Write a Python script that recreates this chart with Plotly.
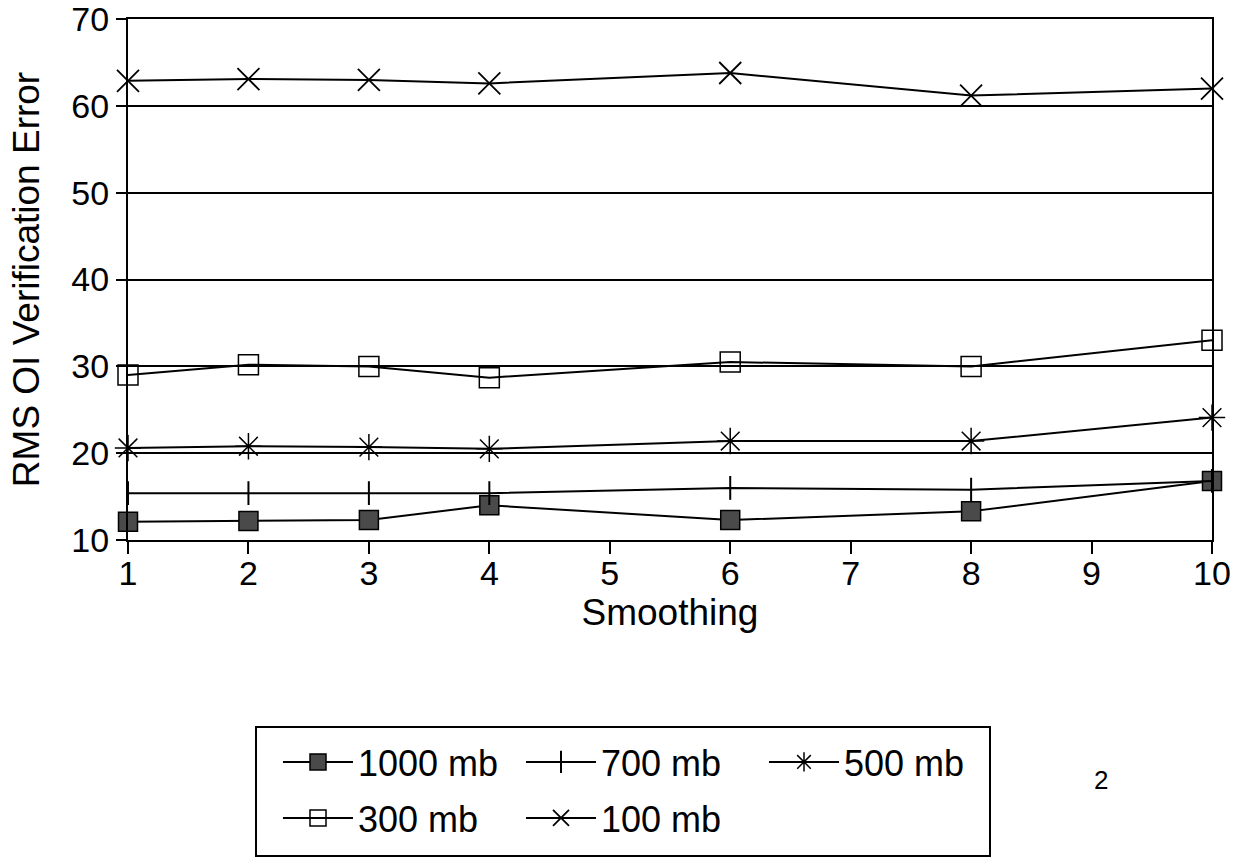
import plotly.graph_objects as go

smoothing = [1, 2, 3, 4, 6, 8, 10]
mb1000 = [12.1, 12.2, 12.3, 14.0, 12.3, 13.3, 16.8]
mb700 = [15.4, 15.4, 15.4, 15.4, 16.0, 15.8, 16.8]
mb500 = [20.6, 20.8, 20.7, 20.5, 21.4, 21.4, 24.1]
mb300 = [29.0, 30.2, 30.0, 28.7, 30.5, 30.0, 33.0]
mb100 = [62.9, 63.1, 63.0, 62.6, 63.8, 61.2, 62.0]

y_ticks = [10, 20, 30, 40, 50, 60, 70]
x_ticks = [1, 2, 3, 4, 5, 6, 7, 8, 9, 10]

FONT = "Liberation Sans, Arial, sans-serif"

series = [
    ("1000 mb", mb1000, dict(symbol="square", size=19, color="#4a4a4a",
                             line=dict(color="black", width=1.5)), "legend"),
    ("700 mb", mb700, dict(symbol="line-ns", size=17, color="black",
                           line=dict(color="black", width=2)), "legend"),
    ("500 mb", mb500, dict(symbol="asterisk-open", size=22, color="black",
                           line=dict(color="black", width=1.5)), "legend"),
    ("300 mb", mb300, dict(symbol="square-open", size=20, color="black",
                           line=dict(color="black", width=1.5)), "legend2"),
    ("100 mb", mb100, dict(symbol="x-thin-open", size=22, color="black",
                           line=dict(color="black", width=1.8)), "legend2"),
]

fig = go.Figure()
for name, vals, marker, leg in series:
    fig.add_trace(go.Scatter(
        x=smoothing, y=vals, name=name, mode="lines+markers",
        line=dict(color="black", width=2), marker=marker,
        cliponaxis=False, legend=leg,
    ))

L, R, T, B = 128, 1212, 19, 540
W, H = 1244, 859
pw, ph = R - L, B - T


def px(x):
    return (x - L) / pw


def py(y):
    return (B - y) / ph


legend_common = dict(
    orientation="h", xanchor="left", yanchor="middle",
    font=dict(family=FONT, size=36, color="black"),
    bgcolor="rgba(0,0,0,0)", borderwidth=0,
    itemwidth=70, entrywidth=158, entrywidthmode="pixels",
    traceorder="normal",
)

fig.update_layout(
    width=W, height=H,
    margin=dict(l=L, r=W - R, t=T, b=H - B, autoexpand=False),
    paper_bgcolor="white", plot_bgcolor="white",
    font=dict(family=FONT, color="black"),
    showlegend=True,
    legend=dict(x=px(278), y=py(762), **legend_common),
    legend2=dict(x=px(278), y=py(818), **legend_common),
    xaxis=dict(
        range=[1, 10], tickvals=x_ticks, ticktext=[str(v) for v in x_ticks],
        showline=True, linecolor="black", linewidth=2, mirror=True,
        ticks="outside", ticklen=12, tickwidth=2, tickcolor="black",
        ticklabelstandoff=-10, automargin=False,
        showgrid=False, zeroline=False,
        tickfont=dict(family=FONT, size=34, color="black"),
        title=dict(text="Smoothing", standoff=2,
                   font=dict(family=FONT, size=37, color="black")),
    ),
    yaxis=dict(
        range=[10, 70.02], tickvals=y_ticks, ticktext=[str(v) for v in y_ticks],
        showline=True, linecolor="black", linewidth=2, mirror=True,
        ticks="outside", ticklen=10, tickwidth=2, tickcolor="black",
        automargin=False,
        showgrid=True, gridcolor="black", gridwidth=2, zeroline=False,
        tickfont=dict(family=FONT, size=34, color="black"),
        title=dict(text="RMS OI Verification Error", standoff=20,
                   font=dict(family=FONT, size=37, color="black")),
    ),
    shapes=[dict(type="rect", xref="paper", yref="paper",
                 x0=px(256), x1=px(990), y0=py(727), y1=py(856),
                 line=dict(color="black", width=2), fillcolor="rgba(0,0,0,0)")],
    annotations=[dict(text="2", xref="paper", yref="paper",
                      x=px(1101), y=py(780), xanchor="center", yanchor="middle",
                      showarrow=False,
                      font=dict(family=FONT, size=26, color="black"))],
)

fig.write_html("out.html")
